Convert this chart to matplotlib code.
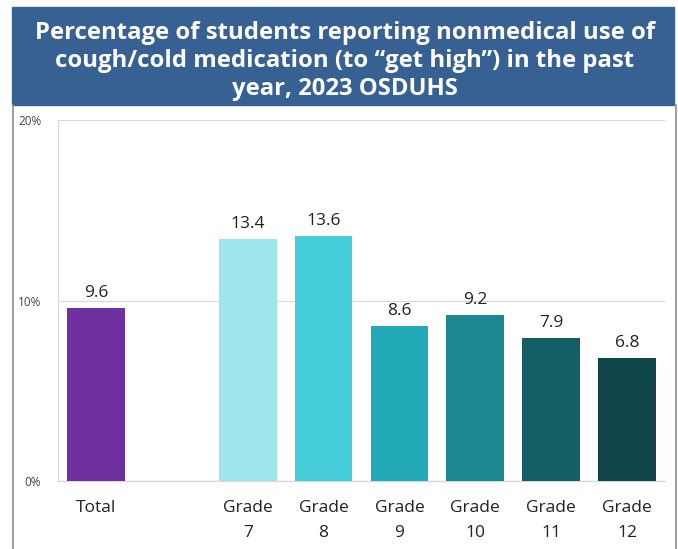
#!/usr/bin/env python3
"""Nonmedical use of cough/cold medication, 2023 OSDUHS - bar chart."""

import matplotlib
matplotlib.use("Agg")
import matplotlib.pyplot as plt
from matplotlib.patches import Rectangle
from matplotlib.lines import Line2D

# Data
categories = ["Total", "Grade\n7", "Grade\n8", "Grade\n9", "Grade\n10", "Grade\n11", "Grade\n12"]
positions = [0, 2, 3, 4, 5, 6, 7]
values = [9.6, 13.4, 13.6, 8.6, 9.2, 7.9, 6.8]
colors = ["#7030A0", "#9EE5EC", "#47CEDC", "#22AAB8", "#1B8791", "#145F65", "#0F4549"]
yticks = [0, 10, 20]
ytick_labels = ["0%", "10%", "20%"]

TITLE = ("Percentage of students reporting nonmedical use of\n"
         "cough/cold medication (to \u201cget high\u201d) in the past\n"
         "year, 2023 OSDUHS")

fig = plt.figure(figsize=(6.78, 5.49), dpi=100)

# Header box and frame
W, H = 678, 549
fig.patches.append(Rectangle((12 / W, 1 - 105 / H), 662 / W, 98 / H,
                             transform=fig.transFigure, color="#376192", zorder=0))
for x in (12.5, 676):
    fig.lines.append(Line2D([x / W, x / W], [0, 1 - 105 / H],
                            transform=fig.transFigure, color="#8C8C8C", lw=1.2))
fig.text(345 / W, 1 - 61 / H, TITLE, ha="center", va="center", color="white",
         fontsize=17.2, fontweight="bold", family="Open Sans", linespacing=1.2)

ax = fig.add_axes([58 / W, 1 - 481 / H, 607 / W, 361 / H])
ax.bar(positions, values, width=0.76, color=colors, zorder=3)

for x, v in zip(positions, values):
    ax.annotate(f"{v}", (x, v), textcoords="offset points", xytext=(0, 5),
                ha="center", va="bottom", fontsize=12.5, color="#222222",
                family="Open Sans")

ax.set_xlim(-0.5, 7.5)
ax.set_ylim(0, 20)
ax.set_yticks(yticks)
ax.set_yticklabels(ytick_labels, fontsize=8.5, color="#444444", family="Open Sans")
ax.set_xticks(positions)
ax.set_xticklabels(categories, fontsize=12.5, color="#222222", family="Open Sans",
                   linespacing=1.7)
ax.tick_params(axis="both", length=0)
ax.tick_params(axis="x", pad=14)
ax.tick_params(axis="y", pad=12)

ax.grid(axis="y", color="#D9D9D9", lw=0.9, zorder=0)
for side in ("top", "right"):
    ax.spines[side].set_visible(False)
for side in ("left", "bottom"):
    ax.spines[side].set_color("#D9D9D9")
    ax.spines[side].set_linewidth(0.9)

fig.savefig("out.png", dpi=100)
plt.close(fig)
